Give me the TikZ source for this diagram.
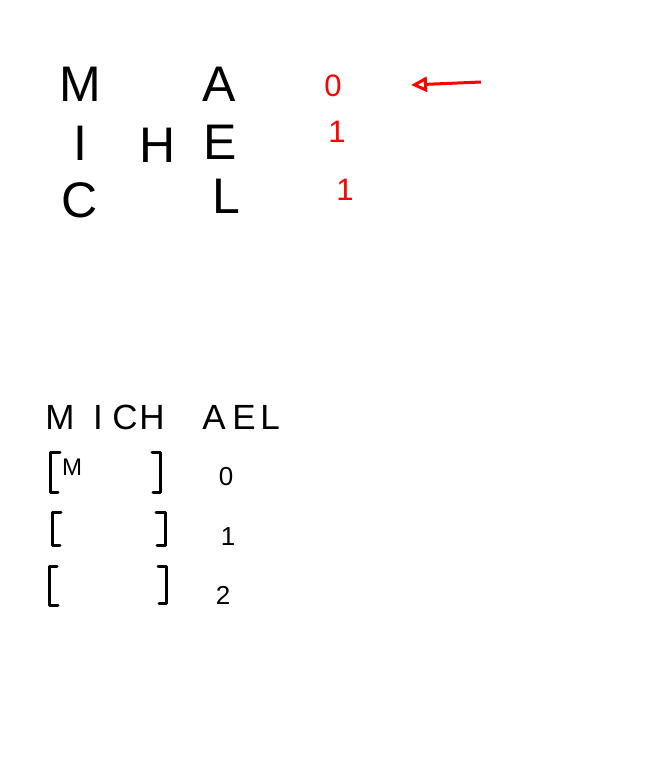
\documentclass[tikz,border=0pt]{standalone}
\usepackage{fontspec}
\setmainfont{Liberation Sans}
\usetikzlibrary{arrows.meta}
\tikzset{
  bigletter/.style={inner sep=0pt, font=\fontsize{50}{50}\selectfont},
  redidx/.style={inner sep=0pt, text=red, font=\fontsize{31}{31}\selectfont},
  wordletter/.style={inner sep=0pt, font=\fontsize{35}{35}\selectfont},
  slotnum/.style={inner sep=0pt, font=\fontsize{26}{26}\selectfont},
  slotbrk/.style={line width=3pt, line cap=round, line join=round}
}

\begin{document}
\begin{tikzpicture}[x=1pt, y=-1pt] % name spread over rows

      \useasboundingbox (0, 0) rectangle (661, 782);

      % grid of letters with row numbers
      \node [bigletter] (m) at (80, 84) {M};
      \node [bigletter] (a) at (219, 84) {A};
      \node [bigletter] (i) at (80, 143) {I};
      \node [bigletter] (h) at (158, 145) {H};
      \node [bigletter] (e) at (220, 142) {E};
      \node [bigletter] (c) at (80, 200) {C};
      \node [bigletter] (l) at (226, 196) {L};
      \node [redidx] (r0) at (333, 86) {0};
      \node [redidx] (r1) at (337, 132) {1};
      \node [redidx] (r2) at (345, 190) {1};
      \coordinate (tail) at (481, 82);
      \coordinate (tip) at (411, 85);
      \draw [red, line width=3pt, -{Triangle[open, length=16pt, width=15pt]}] (tail) -- (tip);

      % the name and its slots
      \foreach \ch/\px in {M/60, I/98, C/125, H/152, A/214, E/244, L/270}
        \node [wordletter] (w\ch) at (\px, 417) {\ch};
      \node [inner sep=0pt, font=\fontsize{24}{24}\selectfont] (s0) at (72, 467) {M};
      \node [slotnum] (n0) at (226, 477) {0};
      \node [slotnum] (n1) at (228, 537) {1};
      \node [slotnum] (n2) at (223, 595) {2};
      \draw [slotbrk] (60, 452) -- (50, 452) -- (50, 492) -- (58, 492);
      \draw [slotbrk] (152, 452) -- (160, 452) -- (160, 492) -- (153, 492);
      \draw [slotbrk] (61, 512) -- (52, 512) -- (52, 545) -- (60, 545);
      \draw [slotbrk] (156, 512) -- (165, 512) -- (165, 545) -- (157, 545);
      \draw [slotbrk] (57, 566) -- (49, 566) -- (49, 605) -- (58, 605);
      \draw [slotbrk] (158, 566) -- (166, 566) -- (166, 603) -- (159, 603);

    \end{tikzpicture}
\end{document}
